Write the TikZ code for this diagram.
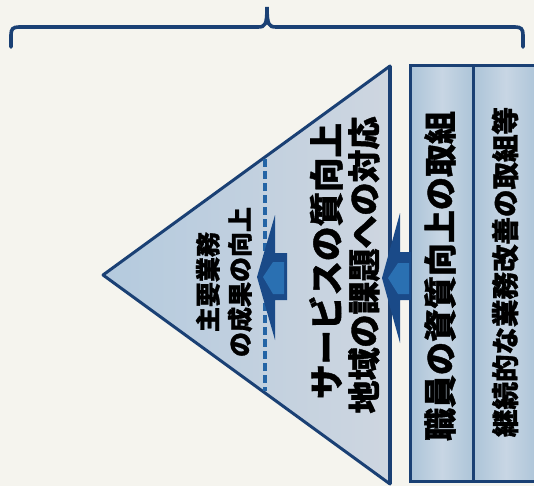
\documentclass[tikz,border=0pt]{standalone}
\usepackage{fontspec}
\newfontfamily\jp{Noto Sans CJK JP}[BoldFeatures={FakeBold=1.2}]
\definecolor{bgc}{RGB}{245,244,238}
\definecolor{navy}{RGB}{26,64,116}
\definecolor{triL}{RGB}{180,202,222}
\definecolor{triR}{RGB}{206,214,224}
\definecolor{boxc}{RGB}{172,196,216}
\definecolor{boxl}{RGB}{200,214,228}
\definecolor{arrD}{RGB}{26,74,136}
\definecolor{arrL}{RGB}{42,112,178}
\definecolor{dashc}{RGB}{35,100,165}
\begin{document}
\begin{tikzpicture}[x=1pt,y=-1pt,
  outl/.style={draw=navy,line width=3pt,line join=round},
  boxst/.style={draw=navy,line width=3pt,left color=boxc,right color=boxc,middle color=boxl,shading angle=90},
  jtext/.style={rotate=90,align=center,text=black,inner sep=0pt}]
\fill[bgc] (0,0) rectangle (534,486);
\useasboundingbox (0,0) rectangle (534,486);
\clip (0,0) rectangle (534,486);
% brace
\draw[navy,line width=3.6pt,line cap=round]
  (11,47) -- (11,35) .. controls (11,29) and (13,27) .. (19,27) -- (258,27)
  .. controls (265,27) and (267,25) .. (267,7)
  .. controls (267,25) and (269,27) .. (276,27) -- (515,27)
  .. controls (521,27) and (523,29) .. (523,35) -- (523,47);
% triangle
\coordinate (apex) at (103,275);
\coordinate (tr) at (390,66);
\coordinate (br) at (390,484);
\shade[left color=triL,right color=triR] (apex) -- (tr) -- (br) -- cycle;
\draw[outl] (apex) -- (tr) -- (br) -- cycle;
\draw[navy,line width=4.5pt] (tr) -- (br);
% dashed divider
\coordinate (dtop) at (265,159);
\coordinate (dbot) at (265,391);
\draw[dashc,line width=3.6pt,dash pattern=on 8pt off 4pt] (dtop) -- (dbot);
% boxes
\node[boxst,minimum width=63pt,minimum height=416pt,inner sep=0pt] (box1) at (442,273.5) {};
\node[boxst,minimum width=65pt,minimum height=416pt,inner sep=0pt] (box2) at (506,273.5) {};
% arrow 1
\fill[arrD] (257,277) -- (275,215) -- (275,253) -- (287,253) -- (287,300) -- (275,300) -- (275,340) -- cycle;
\fill[arrL] (263,277) -- (273,262) -- (284,262) -- (284,294) -- (273,294) -- cycle;
% arrow 2
\fill[arrD] (382,278) -- (400,213) -- (400,252) -- (411,252) -- (411,300) -- (400,300) -- (400,343) -- cycle;
\fill[arrL] (388,278) -- (398,263) -- (409,263) -- (409,294) -- (398,294) -- cycle;
% texts
\node[jtext,font=\jp\bfseries\fontsize{25}{32}\selectfont] (t1) at (224,282) {主要業務\\の成果の向上};
\node[jtext,font=\jp\bfseries\fontsize{34.5}{38}\selectfont] (t2a) at (326,261) {サービスの質向上};
\node[jtext,font=\jp\bfseries\fontsize{33}{38}\selectfont] (t2b) at (364,265) {地域の課題への対応};
\node[jtext,font=\jp\bfseries\fontsize{33}{38}\selectfont] (t3) at (440,276) {職員の資質向上の取組};
\node[jtext,font=\jp\bfseries\fontsize{27.5}{30}\selectfont] (t4) at (505,272) {継続的な業務改善の取組等};
\end{tikzpicture}
\end{document}
